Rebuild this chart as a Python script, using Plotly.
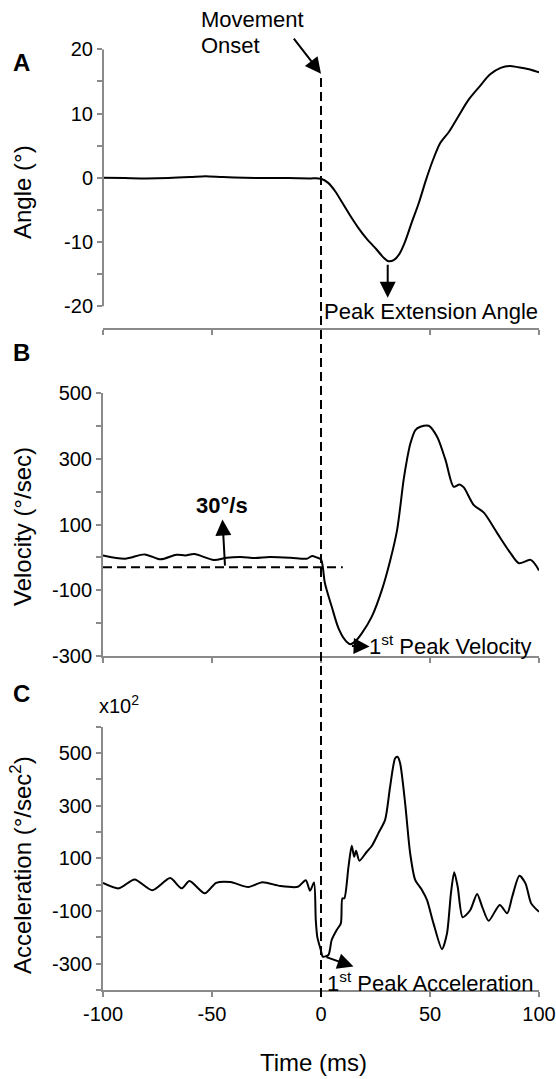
import plotly.graph_objects as go

W, H = 556, 1079

# ---------------- data ----------------
time_a = [-100, -90, -80, -70, -60, -53, -45, -35, -25, -15, -5, 0, 3.3, 6.5, 9.8, 13, 17.1, 21.2, 25.3,
          28.6, 31, 33.5, 35.9, 38.4, 41.6, 44.9, 48.2, 51.4, 54.7, 58.8, 62.9, 67.8, 72.7, 77.6,
          82.4, 86.5, 90.6, 95.5, 100]
angle_a = [0.0, -0.05, -0.1, -0.05, 0.1, 0.25, 0.1, 0.0, -0.05, -0.05, -0.1, -0.15, -0.8, -2.1, -3.9,
           -5.7, -7.8, -9.6, -11.1, -12.4, -13.0, -12.8, -11.9, -10.1, -7.0, -3.9, -0.3, 2.8, 5.4, 7.2,
           9.5, 12.2, 14.2, 16.1, 17.1, 17.4, 17.2, 16.9, 16.4]

time_b = [-100, -89.9, -80.9, -73.6, -66.3, -62.2, -58.1, -49.1, -43.2, -36.7, -30.2, -23.6, -13.9,
          -6.5, -4.1, -2.0, 0, 1.8, 4.9, 8, 11, 13.3, 15.6, 18.7, 23.3, 27.9, 31.8, 34.9, 37.9, 39.5,
          41, 43.3, 45.6, 49.4, 53.2, 57.1, 60.9, 63.5, 65.5, 70.1, 74.7, 80.9, 87, 90.8, 96.2, 100]
vel_b = [5.8, -4.3, 8.9, -6.3, 7.8, 5.8, 9.9, -8.4, -1.3, 0.8, -2.3, 0.8, -1.3,
         -4.3, 3.8, -0.3, -6.3, -79, -150, -216, -252, -265, -257, -232, -181, -100, -8, 83, 236, 300,
         347, 388, 398, 401, 368, 297, 215, 222, 213, 159, 136, 73, 12, -18, -8, -40]

time_c = [-100, -92.8, -85.5, -77.4, -69.2, -64, -60.3, -53.3, -48.1, -41.5, -33.4, -26.9, -18.7,
          -10.6, -7, -5, -3.2, -2.4, -1.7, -0.1, 0.8, 3.4, 4.9, 7.2, 9.1, 9.8, 10.7, 12.6, 14.1, 15.2,
          16.1, 17.6, 21, 23.3, 26.3, 29.4, 31.7, 34, 35.1, 36.3, 38.6, 40.9, 43.2, 46.3, 48.6, 51.6,
          55.5, 57.8, 59.6, 61.1, 62.7, 65, 68.5, 71.6, 73.9, 76.9, 82, 85.4, 87.7, 91, 93.8, 96.4, 100]
acc_c = [7, -14, 20, -21, 25, -14, 14, -33, 7, 10, -9, 9, -5,
         -8, 17, -23, 8, -134, -198, -248, -273, -267, -210, -172, -147, -52, -52, 68, 148, 106,
         129, 91, 125, 147, 195, 246, 372, 480, 486, 461, 309, 119, 18, -20, -58, -147,
         -245, -185, -33, 47, -8, -124, -96, -35, -83, -137, -77, -109, -46, 34, 5, -71, -103]

x_ticks = [-100, -50, 0, 50, 100]
x_ticktext = ['-100', '-50', '0', '50', '100']
a_ticks = [-20, -15, -10, -5, 0, 5, 10, 15, 20]
a_ticktext = ['-20', '', '-10', '', '0', '', '10', '', '20']
b_ticks = [-300, -200, -100, 0, 100, 200, 300, 400, 500]
b_ticktext = ['-300', '', '-100', '', '100', '', '300', '', '500']
c_ticks = [-400, -300, -200, -100, 0, 100, 200, 300, 400, 500, 600]
c_ticktext = ['', '-300', '', '-100', '', '100', '', '300', '', '500', '']

onset_time = 0
threshold_vel = -30
threshold_end = 10
peak_ext = (30.6, -13.0)
peak_vel = (13.5, -268)
peak_acc = (1.8, -273)

# ---------------- layout helpers ----------------
def xp(px):
    return px / W


def yp(px):
    return 1 - px / H


FONT = "Liberation Sans, Arial, sans-serif"
GRAY = "#8a8a8a"
X_DOM = [xp(103), xp(539)]

fig = go.Figure()
line_style = dict(color="black", width=2)
fig.add_trace(go.Scatter(x=time_a, y=angle_a, mode="lines", xaxis="x", yaxis="y",
                         line=dict(line_style, shape="spline", smoothing=0.8)))
fig.add_trace(go.Scatter(x=time_b, y=vel_b, mode="lines", xaxis="x2", yaxis="y2",
                         line=dict(line_style, shape="spline", smoothing=0.8)))
fig.add_trace(go.Scatter(x=[time_b[0], threshold_end], y=[threshold_vel, threshold_vel], mode="lines",
                         xaxis="x2", yaxis="y2", line=dict(color="black", width=2, dash="9px,5px")))
fig.add_trace(go.Scatter(x=time_c, y=acc_c, mode="lines", xaxis="x3", yaxis="y3",
                         line=dict(line_style, shape="spline", smoothing=0.7)))

xcommon = dict(domain=X_DOM, range=[-100, 100], showline=True, linecolor=GRAY, linewidth=2,
               ticks="outside", tickvals=x_ticks, ticktext=x_ticktext, ticklen=5, tickcolor=GRAY,
               tickwidth=2, showgrid=False, zeroline=False, automargin=False,
               tickfont=dict(family=FONT, size=20, color="black"))
ycommon = dict(ticks="outside", ticklen=5, tickcolor=GRAY, tickwidth=2, showgrid=False,
               zeroline=False, linecolor=GRAY, linewidth=2, automargin=False,
               tickfont=dict(family=FONT, size=20, color="black"))

fig.update_layout(
    width=W, height=H, margin=dict(l=0, r=0, t=0, b=0, autoexpand=False),
    paper_bgcolor="white", plot_bgcolor="white", showlegend=False,
    font=dict(family=FONT, color="black"),
    xaxis=dict(xcommon, anchor="y", showticklabels=False),
    xaxis2=dict(xcommon, anchor="y2", showticklabels=False),
    xaxis3=dict(xcommon, anchor="y3", showticklabels=True),
    yaxis=dict(ycommon, domain=[yp(328), yp(49.3)], range=[-23.4, 20], tickvals=a_ticks,
               ticktext=a_ticktext, showline=False, anchor="x"),
    yaxis2=dict(ycommon, domain=[yp(655.7), yp(393.3)], range=[-300, 500], tickvals=b_ticks,
                ticktext=b_ticktext, showline=True, anchor="x2"),
    yaxis3=dict(ycommon, domain=[yp(990), yp(726.7)], range=[-400, 600], tickvals=c_ticks,
                ticktext=c_ticktext, showline=True, anchor="x3"),
)

# y-axis line of panel A only spans the tick range
fig.add_shape(type="line", xref="x domain", yref="y", x0=0, x1=0, y0=a_ticks[0], y1=a_ticks[-1],
              line=dict(color=GRAY, width=2))
# movement onset dashed line across panels
fig.add_shape(type="line", xref="x3", yref="paper", x0=onset_time, x1=onset_time,
              y0=yp(997), y1=yp(77), line=dict(color="black", width=2, dash="9px,5px"))

ann = []
def text(s, x, y, size=22, xref="paper", yref="paper", xanchor="center", yanchor="middle",
         bold=False, angle=0):
    ann.append(dict(text=("<b>%s</b>" % s) if bold else s, x=x, y=y, xref=xref, yref=yref,
                    xanchor=xanchor, yanchor=yanchor, showarrow=False, textangle=angle,
                    font=dict(family=FONT, size=size, color="black")))


def arrow(x, y, ax, ay, xref, yref):
    ann.append(dict(text="", x=x, y=y, ax=ax, ay=ay, xref=xref, yref=yref, axref=xref, ayref=yref,
                    showarrow=True, arrowhead=2, arrowsize=1.6, arrowwidth=2, arrowcolor="black",
                    standoff=0, startstandoff=0))

# panel letters
text("A", xp(21), yp(63), size=24, bold=True)
text("B", xp(21), yp(352), size=24, bold=True)
text("C", xp(21), yp(693), size=24, bold=True)

# axis titles
text("Angle (°)", xp(23), yp(192), size=24, angle=-90)
text("Velocity (°/sec)", xp(22), yp(527), size=24, angle=-90)
text("Acceleration (°/sec<sup>2</sup>)", xp(21), yp(865), size=24, angle=-90)
text("Time (ms)", xp(313), yp(1062), size=24)
text("x10<sup>2</sup>", xp(97), yp(704), size=20, xanchor="left")

# movement onset
text("Movement", xp(199), yp(20), xanchor="left")
text("Onset", xp(199), yp(45), xanchor="left")
arrow(onset_time, 16.2, -13, 21.9, "x", "y")

# panel A annotation
arrow(peak_ext[0], -18.7, peak_ext[0], peak_ext[1] - 0.3, "x", "y")
text("Peak Extension Angle", 0.6, -20.9, xref="x", yref="y", xanchor="left")

# panel B annotations
text("30°/s", -45.6, 158, xref="x2", yref="y2", bold=True)
arrow(-45.2, 115, -44, threshold_vel, "x2", "y2")
arrow(22.3, -272, peak_vel[0], -270, "x2", "y2")
text("1<sup>st</sup> Peak Velocity", 21.0, -268, xref="x2", yref="y2", xanchor="left")

# panel C annotations
arrow(14.9, -311, peak_acc[0], peak_acc[1], "x3", "y3")
text("1<sup>st</sup> Peak Acceleration", 1.8, -368, xref="x3", yref="y3", xanchor="left")

fig.update_layout(annotations=ann)
fig.write_html("out.html")
